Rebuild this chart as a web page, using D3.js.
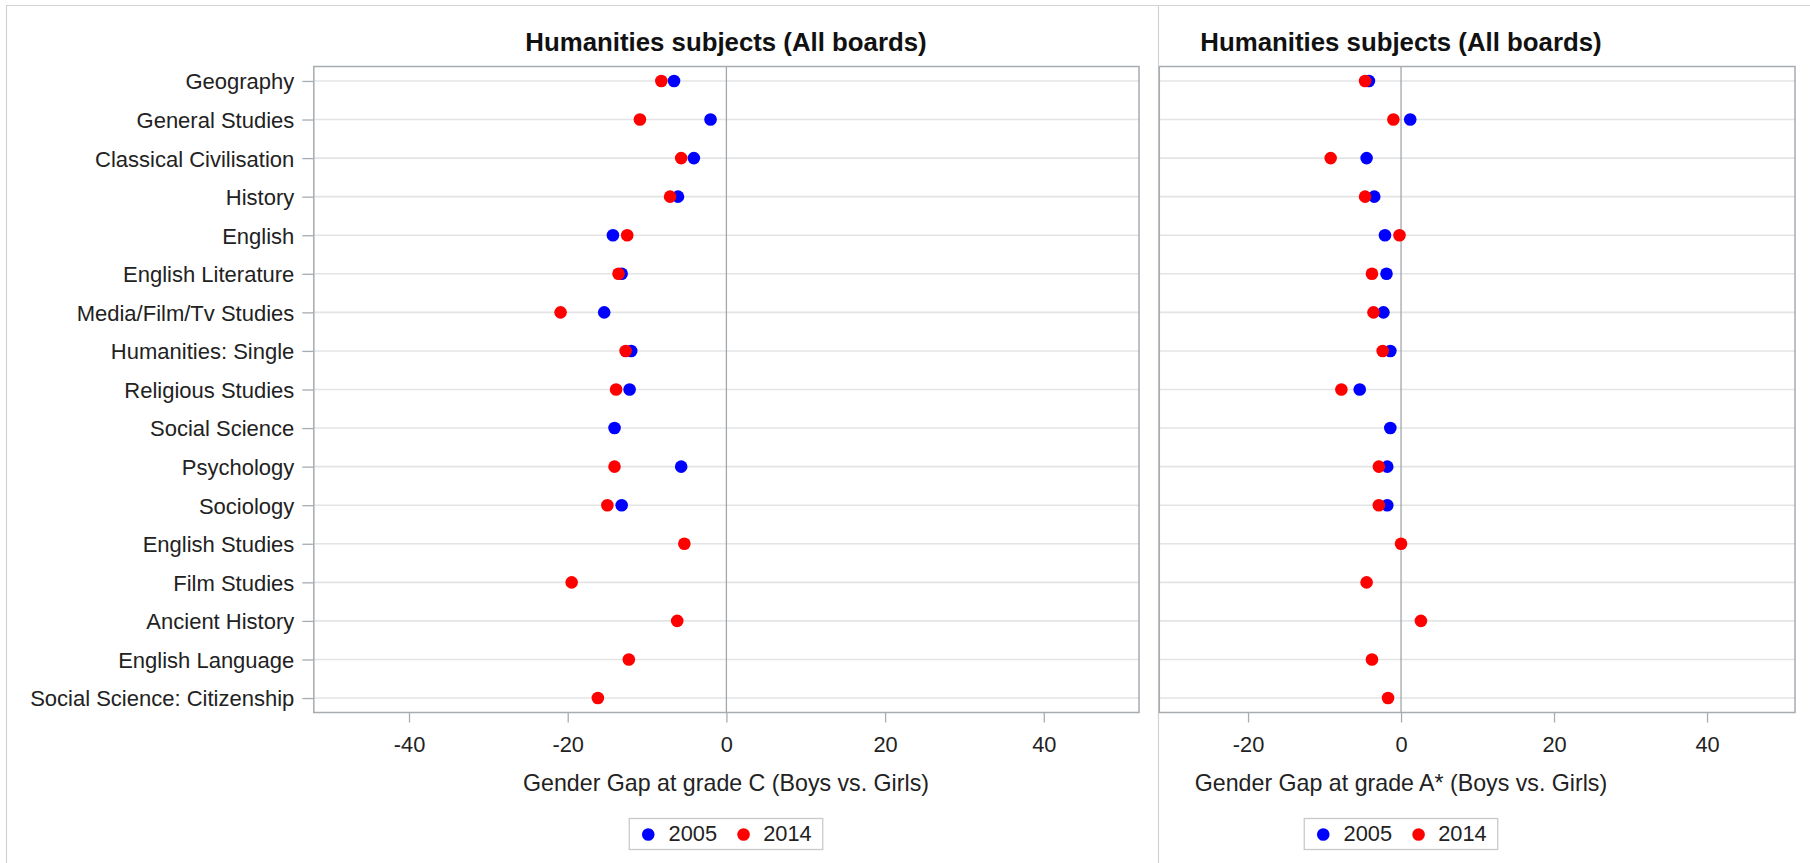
<!DOCTYPE html>
<html>
<head>
<meta charset="utf-8">
<script src="https://cdn.jsdelivr.net/npm/d3@7"></script>
<style>
  html, body { margin: 0; padding: 0; background: #fff; overflow: hidden; }
  svg { display: block; font-family: "Liberation Sans", Arial, sans-serif; }
</style>
</head>
<body>
<svg id="chart" width="1810" height="863"></svg>
<script>
// ---- data ----
const subjects = [
  "Geography", "General Studies", "Classical Civilisation", "History", "English",
  "English Literature", "Media/Film/Tv Studies", "Humanities: Single", "Religious Studies",
  "Social Science", "Psychology", "Sociology", "English Studies", "Film Studies",
  "Ancient History", "English Language", "Social Science: Citizenship"
];
// gender gap at grade C (boys minus girls, percentage points); null = not offered
const gapC2005 = [-6.6, -2.0, -4.1, -6.1, -14.3, -13.2, -15.4, -12.0, -12.2, -14.1, -5.7, -13.2, null, null, null, null, null];
const gapC2014 = [-8.2, -10.9, -5.7, -7.1, -12.5, -13.6, -20.9, -12.7, -13.9, null, -14.1, -15.0, -5.3, -19.5, -6.2, -12.3, -16.2];
// gender gap at grade A*
const gapA2005 = [-4.2, 1.2, -4.5, -3.5, -2.1, -1.9, -2.3, -1.4, -5.4, -1.4, -1.8, -1.8, null, null, null, null, null];
const gapA2014 = [-4.7, -1.0, -9.2, -4.7, -0.2, -3.8, -3.6, -2.4, -7.8, null, -2.9, -2.9, 0.0, -4.5, 2.6, -3.8, -1.7];

const ticksC = [-40, -20, 0, 20, 40];
const ticksA = [-20, 0, 20, 40];
const domainC = [-52, 52];
const domainA = [-31.6, 51.5];

const years = ["2005", "2014"];
const yearColors = ["#0000FF", "#FF0000"];
const titleText = "Humanities subjects (All boards)";
const labelC = "Gender Gap at grade C (Boys vs. Girls)";
const labelA = "Gender Gap at grade A* (Boys vs. Girls)";

// ---- drawing ----
const svg = d3.select("#chart");
const frameColor = "#A7ACB1";
const gridColor = "#E3E4E6";
const textColor = "#222";
const plotTop = 66.5, plotBottom = 712.5;
const dotR = 6.3;

const y = d3.scalePoint().domain(subjects).range([plotTop, plotBottom]).padding(0.375);

// outer frames of the two graphs
svg.append("path")
  .attr("d", "M6.5,863V5.5H1810M1158.5,5.5V863")
  .attr("fill", "none").attr("stroke", "#D2D2D2").attr("stroke-width", 1.2);

function drawPanel(opt) {
  const x = d3.scaleLinear().domain(opt.domain).range([opt.x0, opt.x1]);
  const g = svg.append("g");

  // horizontal reference lines per subject
  g.append("g").selectAll("line").data(subjects).join("line")
    .attr("x1", opt.x0).attr("x2", opt.x1)
    .attr("y1", d => y(d)).attr("y2", d => y(d))
    .attr("stroke", gridColor).attr("stroke-width", 1.6);

  // zero reference line
  g.append("line")
    .attr("x1", x(0)).attr("x2", x(0)).attr("y1", plotTop).attr("y2", plotBottom)
    .attr("stroke", "#A3A7AB").attr("stroke-width", 1.3);

  // x axis
  const xAxis = g.append("g")
    .attr("transform", `translate(0,${plotBottom})`)
    .call(d3.axisBottom(x).tickValues(opt.ticks).tickSize(10).tickFormat(d => String(d)));
  xAxis.select(".domain").remove();
  xAxis.selectAll(".tick line").attr("stroke", frameColor).attr("stroke-width", 1.3);
  xAxis.selectAll(".tick text")
    .attr("y", 39).attr("dy", null)
    .attr("fill", textColor).attr("font-size", 21.8).attr("font-family", null);

  // y axis (category names)
  if (opt.showY) {
    const yAxis = g.append("g")
      .attr("transform", `translate(${opt.x0},0)`)
      .call(d3.axisLeft(y).tickSize(11.5));
    yAxis.select(".domain").remove();
    yAxis.selectAll(".tick line").attr("stroke", frameColor).attr("stroke-width", 1.3);
    yAxis.selectAll(".tick text")
      .attr("x", -19.5).attr("dy", "0.36em")
      .attr("fill", textColor).attr("font-size", 22).attr("font-family", null);
  }

  // plot frame
  g.append("rect")
    .attr("x", opt.x0).attr("y", plotTop)
    .attr("width", opt.x1 - opt.x0).attr("height", plotBottom - plotTop)
    .attr("fill", "none").attr("stroke", frameColor).attr("stroke-width", 1.5);

  // dots: 2005 first, 2014 on top
  [opt.s2005, opt.s2014].forEach((series, i) => {
    const pts = subjects.map((s, j) => ({ s, v: series[j] })).filter(d => d.v !== null);
    g.append("g").selectAll("circle").data(pts).join("circle")
      .attr("cx", d => x(d.v)).attr("cy", d => y(d.s))
      .attr("r", dotR).attr("fill", yearColors[i]);
  });

  // title
  g.append("text")
    .attr("x", opt.center).attr("y", 50.5).attr("text-anchor", "middle")
    .attr("font-size", 25.8).attr("font-weight", "bold").attr("fill", "#111")
    .text(titleText);

  // axis label
  g.append("text")
    .attr("x", opt.center).attr("y", 790.5).attr("text-anchor", "middle")
    .attr("font-size", 23.2).attr("fill", textColor)
    .text(opt.label);

  // legend
  const lw = 193.5, lx = opt.center - lw / 2;
  const lg = g.append("g").attr("transform", `translate(${lx},818.5)`);
  lg.append("rect").attr("width", lw).attr("height", 31)
    .attr("fill", "#fff").attr("stroke", "#CACACA").attr("stroke-width", 1.3);
  const itemX = [[19, 39.3], [114.3, 134]];
  years.forEach((yr, i) => {
    lg.append("circle").attr("cx", itemX[i][0]).attr("cy", 16).attr("r", dotR).attr("fill", yearColors[i]);
    lg.append("text").attr("x", itemX[i][1]).attr("y", 22.8)
      .attr("font-size", 21.8).attr("fill", textColor).text(yr);
  });
}

drawPanel({
  x0: 313.8, x1: 1139, domain: domainC, ticks: ticksC,
  s2005: gapC2005, s2014: gapC2014, label: labelC, center: 726, showY: true
});
drawPanel({
  x0: 1159.3, x1: 1795, domain: domainA, ticks: ticksA,
  s2005: gapA2005, s2014: gapA2014, label: labelA, center: 1401, showY: false
});
</script>
</body>
</html>
